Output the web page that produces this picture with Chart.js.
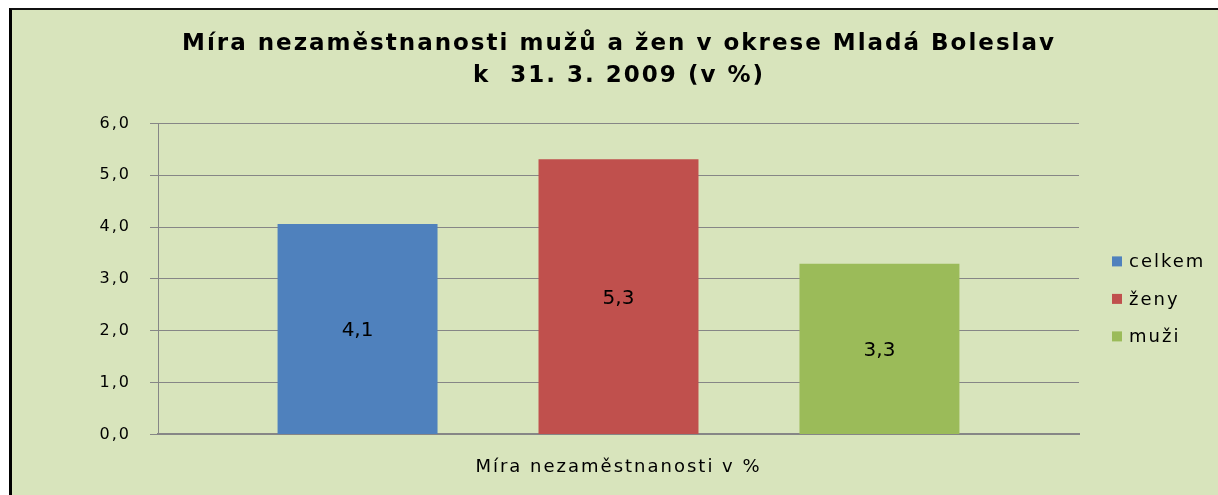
<!DOCTYPE html>
<html>
<head>
<meta charset="utf-8">
<script src="https://cdn.jsdelivr.net/npm/chart.js@4/dist/chart.umd.min.js"></script>
<style>
  html, body { margin: 0; padding: 0; background: #fff; overflow: hidden; }
  #frame {
    position: absolute; left: 9px; top: 8px;
    width: 1214px; height: 485px;
    border-left: 3px solid #000; border-top: 2px solid #111;
    background: #D8E4BC;
  }
  #chart { display: block; }
</style>
</head>
<body>
<div id="frame"><canvas id="chart" width="1214" height="485"></canvas></div>
<script>
const titleLines = ['Míra nezaměstnanosti mužů a žen v okrese Mladá Boleslav', 'k  31. 3. 2009 (v %)'];
const categories = ['Míra nezaměstnanosti v %'];
const seriesNames = ['celkem', 'ženy', 'muži'];
const seriesValues = [4.06, 5.31, 3.29];
const seriesColors = ['#4F81BD', '#C0504D', '#9BBB59'];
const yMin = 0, yMax = 6, yStep = 1;

const fmt = v => v.toFixed(1).replace('.', ',');

// trochu rozteče písmen, ať texty sedí na šířku
const spacing = {
  id: 'spacing',
  beforeUpdate(chart) { chart.ctx.letterSpacing = '2px'; },
  beforeDraw(chart) { chart.ctx.letterSpacing = '2px'; }
};

// popisky hodnot uprostřed sloupců
const barLabels = {
  id: 'barLabels',
  afterDatasetsDraw(chart) {
    const ctx = chart.ctx;
    ctx.save();
    ctx.letterSpacing = '0px';
    ctx.font = '20px "DejaVu Sans"';
    ctx.fillStyle = '#000';
    ctx.textAlign = 'center';
    ctx.textBaseline = 'middle';
    chart.data.datasets.forEach((ds, i) => {
      const bar = chart.getDatasetMeta(i).data[0];
      ctx.fillText(fmt(ds.data[0]), bar.x, (bar.y + bar.base) / 2 + 2);
    });
    ctx.restore();
  }
};

// legenda vpravo jako v Excelu - vlastní box v layoutu, titulek zůstane přes celou šířku
const sideLegend = {
  id: 'sideLegend',
  beforeInit(chart) {
    const box = {
      position: 'right',
      weight: 1000,
      fullSize: false,
      options: {},
      isHorizontal() { return false; },
      update(maxWidth, maxHeight) {
        this.width = 147;
        this.height = maxHeight;
      },
      draw() {
        const ctx = chart.ctx;
        const area = chart.chartArea;
        ctx.save();
        ctx.font = '18px "DejaVu Sans"';
        ctx.textBaseline = 'middle';
        chart.data.datasets.forEach((ds, i) => {
          const x = this.left + 33;
          const y = area.top + 138 + i * 37.5;
          ctx.fillStyle = ds.backgroundColor;
          ctx.fillRect(x, y - 5, 10, 10);
          ctx.fillStyle = '#000';
          ctx.fillText(ds.label, x + 17, y + 1);
        });
        ctx.restore();
      }
    };
    Chart.layouts.addBox(chart, box);
  }
};

new Chart(document.getElementById('chart'), {
  type: 'bar',
  data: {
    labels: categories,
    datasets: seriesNames.map((name, i) => ({
      label: name,
      data: [seriesValues[i]],
      backgroundColor: seriesColors[i],
      barPercentage: 0.613,
      categoryPercentage: 0.85
    }))
  },
  options: {
    responsive: false,
    animation: false,
    layout: { padding: { left: 0, right: 0, top: 0, bottom: 3 } },
    plugins: {
      legend: { display: false },
      tooltip: { enabled: false },
      title: {
        display: true,
        text: titleLines,
        color: '#000',
        font: { family: 'DejaVu Sans', size: 23, weight: 'bold', lineHeight: 1.4 },
        padding: { top: 18, bottom: 31 }
      }
    },
    scales: {
      x: {
        grid: { display: false },
        border: { color: '#868686', width: 2 },
        ticks: { color: '#000', padding: 14, font: { family: 'DejaVu Sans', size: 18 } }
      },
      y: {
        min: yMin,
        max: yMax,
        afterFit(scale) { scale.width = 146; },
        grid: { color: '#868686', lineWidth: 1, tickLength: 8 },
        border: { color: '#868686', width: 1 },
        ticks: {
          stepSize: yStep,
          color: '#000',
          padding: 19,
          font: { family: 'DejaVu Sans', size: 16 },
          callback: v => fmt(v)
        }
      }
    }
  },
  plugins: [spacing, barLabels, sideLegend]
});
</script>
</body>
</html>
